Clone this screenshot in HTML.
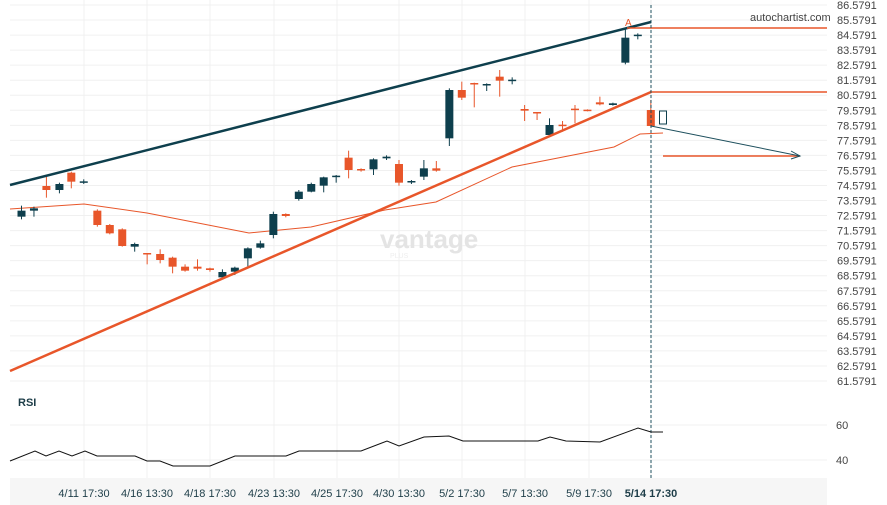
<!DOCTYPE html><html><head><style>body{margin:0;background:#fff}svg{display:block;font-family:"Liberation Sans",sans-serif}</style></head><body>
<svg id="s" width="887" height="505" xmlns="http://www.w3.org/2000/svg"></svg>
<script>
const S=document.getElementById('s');let h='';
h+='<rect x="10" y="478" width="817" height="27" fill="#f6f6f6"/>';
const xs=[84,147,210,274,337,399,462,525,589,651];
xs.forEach(x=>h+=`<line x1="${x}" y1="0" x2="${x}" y2="478" stroke="#f0f0f0"/>`);
for(let i=0;i<26;i++){const y=5+i*15.04;h+=`<line x1="10" y1="${y}" x2="827" y2="${y}" stroke="#f0f0f0"/><text x="837" y="${y+4}" font-size="11" fill="#444">${(86.5791-i).toFixed(4)}</text>`;}
h+='<line x1="10" y1="425" x2="827" y2="425" stroke="#f0f0f0"/><line x1="10" y1="460" x2="827" y2="460" stroke="#f0f0f0"/>';
h+='<text x="836" y="429" font-size="11" fill="#444">60</text><text x="836" y="464" font-size="11" fill="#444">40</text>';
h+='<text x="18" y="406" font-size="11" font-weight="bold" fill="#1d3d48">RSI</text>';
h+='<text x="750" y="21" font-size="11" fill="#444">autochartist.com</text>';
h+='<text x="380" y="248" font-size="26" fill="#e4e4e4" font-weight="bold">vantage</text><text x="390" y="258" font-size="7" fill="#eee">PLUS</text>';
const lab=['4/11 17:30','4/16 13:30','4/18 17:30','4/23 13:30','4/25 17:30','4/30 13:30','5/2 17:30','5/7 13:30','5/9 17:30','5/14 17:30'];
lab.forEach((l,i)=>h+=`<text x="${xs[i]}" y="497" font-size="11" text-anchor="middle" fill="#1d3d48" ${i==9?'font-weight="bold"':''}>${l}</text>`);
// MA
h+='<polyline fill="none" stroke="#e8562a" stroke-width="1" points="10,209 84,204 147,213 249,233 311,227 385,210 436,202 512,167 614,147 640,134 663,133"/>';
// candles [zx, color, bt, bb, wt, wb] zoom coords
const C=[[38,'d',632,650,617,658],[60,'d',625,632,620,650],[82,'o',558,570,530,593],[105,'d',552,570,548,580],[126,'o',518,545,515,565],[148,'d',544,546,538,552],[172,'o',632,675,628,680],[194,'o',675,700,672,703],[216,'o',688,738,685,740],[238,'d',732,740,728,755],[260,'o',759,761,759,793],[283,'o',762,780,748,790],[305,'o',773,800,770,820],[327,'o',800,812,793,815],[349,'o',800,806,778,812],[371,'o',805,810,803,815],[393,'d',816,832,808,835],[415,'d',803,815,800,825],[438,'d',745,775,742,800],[460,'d',730,743,722,746],[483,'d',642,705,635,715],[505,'o',642,648,640,652],[528,'d',575,597,570,602],[550,'d',552,575,548,577],[572,'d',532,557,530,577],[594,'d',527,530,525,548],[616,'o',473,510,452,535],[638,'o',507,510,505,515],[660,'d',478,508,475,525],[683,'d',470,475,466,480],[705,'o',492,548,480,557],[727,'d',543,547,540,552],[749,'d',505,530,480,540],[771,'o',505,512,483,515],[794,'d',270,415,265,438],[816,'o',270,293,245,300],[838,'o',249,252,248,322],[860,'d',252,255,250,273],[883,'o',230,242,210,290],[905,'d',239,242,232,253],[927,'o',327,332,315,363],[949,'o',336,339,336,360],[971,'d',375,405,355,408],[994,'o',374,377,363,395],[1016,'o',326,329,315,370],[1038,'o',329,332,328,334],[1060,'o',307,313,290,316],[1083,'d',310,315,308,317],[1105,'d',113,188,85,193],[1127,'d',104,107,100,118],[1150,'o',330,378,300,380]];
C.forEach(c=>{const x=c[0]/1.767,col=c[1]=='d'?'#0e3f4d':'#e8562a';h+=`<line x1="${x}" y1="${c[4]/3}" x2="${x}" y2="${c[5]/3}" stroke="${col}"/><rect x="${x-4}" y="${c[2]/3}" width="8" height="${Math.max(1.5,(c[3]-c[2])/3)}" fill="${col}"/>`;});
h+='<rect x="659.5" y="111" width="7" height="13" fill="#fff" stroke="#0e3f4d"/>';
// trend lines
h+='<line x1="10" y1="185" x2="651" y2="22" stroke="#0e3f4d" stroke-width="2.5"/>';
h+='<line x1="10" y1="371" x2="651" y2="92" stroke="#e8562a" stroke-width="2.5"/>';
h+='<line x1="627" y1="28" x2="827" y2="28" stroke="#e8562a" stroke-width="1.5"/><line x1="651" y1="92" x2="827" y2="92" stroke="#e8562a" stroke-width="1.5"/><line x1="663" y1="156" x2="800" y2="156" stroke="#e8562a" stroke-width="1.5"/>';
h+='<text x="625" y="26" font-size="10" fill="#e8562a">A</text>';
h+='<line x1="651" y1="126" x2="800" y2="156" stroke="#1d4f5d" stroke-width="1"/><polyline points="791,151 800,156 791,159" fill="none" stroke="#1d4f5d"/>';
h+='<line x1="651" y1="5" x2="651" y2="480" stroke="#1d4f5d" stroke-dasharray="3,2"/>';
h+='<polyline fill="none" stroke="#111" stroke-width="1" points="10,461 35,451 46,456 59,451 72,456 85,451 97,456 135,456 147,461 160,461 173,466 210,466 235,456 286,456 299,451 361,451 387,441 399,446 424,437 449,436 463,441 538,441 550,437 566,441 600,442 638,428 651,432 663,432"/>';
S.innerHTML=h;
</script></body></html>
